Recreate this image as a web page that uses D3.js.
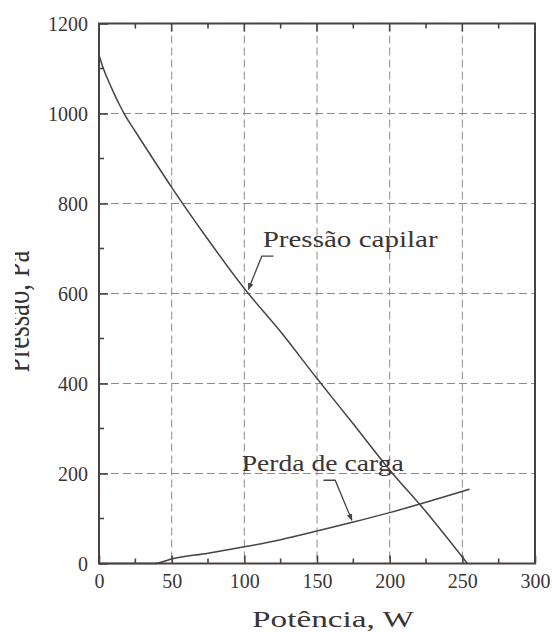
<!DOCTYPE html>
<html>
<head>
<meta charset="utf-8">
<script src="https://cdn.jsdelivr.net/npm/d3@7"></script>
<style>
  html, body { margin: 0; padding: 0; background: #fff; }
  svg { display: block; }
  text { font-family: "Liberation Serif", "Times New Roman", serif; fill: #3b3434; }
</style>
</head>
<body>
<svg id="chart" width="552" height="632"></svg>
<script>
// Capillary pressure and pressure loss versus heat load
const powerCapilar = [0, 3, 6, 10, 14, 18, 25, 35, 50, 75, 100, 125, 150, 175, 200, 225, 253.5];
const pressCapilar = [1130, 1100, 1076, 1047, 1020, 996, 960, 910, 836, 720, 611, 515, 411, 310, 208, 115, 0];

const powerPerda = [0, 20, 38, 50, 75, 100, 125, 150, 175, 200, 225, 255];
const pressPerda = [0, 0, 0, 10, 23, 37, 53, 72, 92, 113, 136, 165];

const xTicks = [0, 50, 100, 150, 200, 250, 300];
const xMinor = [25, 75, 125, 175, 225, 275];
const yTicks = [0, 200, 400, 600, 800, 1000, 1200];
const yMinor = [100, 300, 500, 700, 900, 1100];

const xTitle = "Potência, W";
const yTitle = "Pressão, Pa";

// Curve labels with leader arrows, in data units: text anchor, then leader path ending at the arrow tip
const labelText = ["Pressão capilar", "Perda de carga"];
const labelPos = [[112.6, 703], [98.2, 206]];
const labelLen = [175, 162];
const leaderPts = [
  [[120, 683], [112, 683], [102.8, 609]],
  [[154.4, 185], [162.5, 185], [174, 96]]
];

const svg = d3.select("#chart");
const plotL = 99, plotR = 535, plotT = 23.5, plotB = 563.5;

const x = d3.scaleLinear().domain([0, 300]).range([plotL, plotR]);
const y = d3.scaleLinear().domain([0, 1200]).range([plotB, plotT]);

const ink = "#4a4242";

// dashed grid
const grid = svg.append("g").attr("stroke", "#8f8a8a").attr("stroke-width", 1)
  .attr("stroke-dasharray", "8,4");
grid.selectAll("line.gx").data(xTicks.filter(d => d > 0 && d < 300)).join("line")
  .attr("class", "gx")
  .attr("x1", d => x(d)).attr("x2", d => x(d)).attr("y1", plotT).attr("y2", plotB);
grid.selectAll("line.gy").data(yTicks.filter(d => d > 0 && d < 1200)).join("line")
  .attr("class", "gy")
  .attr("x1", plotL).attr("x2", plotR).attr("y1", d => y(d)).attr("y2", d => y(d));

// axes with inward ticks
const xAxis = d3.axisBottom(x).tickValues(xTicks).tickSize(-8).tickPadding(22)
  .tickFormat(d3.format("d"));
const gx = svg.append("g").attr("transform", `translate(0,${plotB})`).call(xAxis);
const yAxis = d3.axisLeft(y).tickValues(yTicks).tickSize(-9).tickPadding(11)
  .tickFormat(d3.format("d"));
const gy = svg.append("g").attr("transform", `translate(${plotL},0)`).call(yAxis);
[gx, gy].forEach(g => {
  g.select(".domain").remove();
  g.selectAll(".tick line").attr("stroke", ink).attr("stroke-width", 1.6);
  g.selectAll(".tick text").attr("font-size", 20).attr("fill", "#3b3434");
});
gx.selectAll(".tick text").attr("dy", "0.1em");
gy.selectAll(".tick text").attr("dy", "0.35em");

// minor ticks and top-edge ticks
const tk = svg.append("g").attr("stroke", ink).attr("stroke-width", 1.6);
tk.selectAll("line.mxb").data(xMinor).join("line").attr("class", "mxb")
  .attr("x1", d => x(d)).attr("x2", d => x(d)).attr("y1", plotB).attr("y2", plotB - 5);
tk.selectAll("line.mxt").data(xMinor).join("line").attr("class", "mxt")
  .attr("x1", d => x(d)).attr("x2", d => x(d)).attr("y1", plotT).attr("y2", plotT + 5);
tk.selectAll("line.Mxt").data(xTicks).join("line").attr("class", "Mxt")
  .attr("x1", d => x(d)).attr("x2", d => x(d)).attr("y1", plotT).attr("y2", plotT + 8);
tk.selectAll("line.myl").data(yMinor).join("line").attr("class", "myl")
  .attr("x1", plotL).attr("x2", plotL + 5).attr("y1", d => y(d)).attr("y2", d => y(d));

// frame
svg.append("rect").attr("x", plotL).attr("y", plotT)
  .attr("width", plotR - plotL).attr("height", plotB - plotT)
  .attr("fill", "none").attr("stroke", ink).attr("stroke-width", 2);

// curves
const line = d3.line().x(d => x(d[0])).y(d => y(d[1])).curve(d3.curveMonotoneX);
svg.append("path").datum(d3.zip(powerCapilar, pressCapilar))
  .attr("d", line).attr("fill", "none").attr("stroke", ink).attr("stroke-width", 1.5);
svg.append("path").datum(d3.zip(powerPerda, pressPerda))
  .attr("d", line).attr("fill", "none").attr("stroke", ink).attr("stroke-width", 1.5);

// arrow marker
svg.append("defs").append("marker").attr("id", "arrow")
  .attr("viewBox", "0 0 10 10").attr("refX", 9).attr("refY", 5)
  .attr("markerWidth", 7).attr("markerHeight", 7).attr("markerUnits", "userSpaceOnUse")
  .attr("orient", "auto")
  .append("path").attr("d", "M0,1 L10,5 L0,9 Z").attr("fill", ink);

// labels and leaders
const leader = d3.line().x(d => x(d[0])).y(d => y(d[1]));
labelText.forEach((t, i) => {
  svg.append("text").attr("x", x(labelPos[i][0])).attr("y", y(labelPos[i][1]))
    .attr("font-size", 24).attr("textLength", labelLen[i])
    .attr("lengthAdjust", "spacingAndGlyphs").text(t);
  svg.append("path").attr("d", leader(leaderPts[i]))
    .attr("fill", "none").attr("stroke", ink).attr("stroke-width", 1.3)
    .attr("marker-end", "url(#arrow)");
});

// axis titles
svg.append("text").attr("x", (plotL + plotR) / 2 + 16).attr("y", 627)
  .attr("text-anchor", "middle").attr("font-size", 23)
  .attr("textLength", 162).attr("lengthAdjust", "spacingAndGlyphs").text(xTitle);

// y title runs past the page's left edge, so only its lower part shows
svg.append("clipPath").attr("id", "yclip")
  .append("rect").attr("x", 15).attr("y", 0).attr("width", 60).attr("height", 632);
svg.append("g").attr("clip-path", "url(#yclip)")
  .append("text")
  .attr("transform", `translate(29,${y(560)}) scale(1.45,1) rotate(-90)`)
  .attr("text-anchor", "middle").attr("font-size", 24)
  .attr("textLength", 122).attr("lengthAdjust", "spacingAndGlyphs").text(yTitle);
</script>
</body>
</html>
